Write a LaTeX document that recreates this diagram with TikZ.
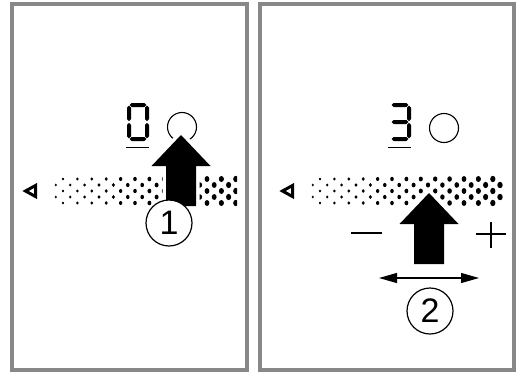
\documentclass[tikz,border=0pt]{standalone}
\usepackage{fontspec}
\newfontfamily\labelfont{Liberation Sans}
\usetikzlibrary{arrows.meta}
\definecolor{framegray}{RGB}{136,136,136}

\tikzset{
  panel/.style={draw=framegray, line width=3.5pt},
  led/.style={circle, draw, line width=1.1pt, minimum size=29pt, inner sep=0pt},
  stepnum/.style={circle, draw, line width=1.2pt, fill=white, minimum size=46pt,
    inner sep=0pt, font=\labelfont\fontsize{34}{34}\selectfont},
  sign/.style={line width=1.4pt},
  backtri/.style={line width=3pt, line join=miter},
  swipe/.style={line width=1.2pt,
    {Triangle[length=18pt,width=10pt]}-{Triangle[length=18pt,width=10pt]}},
}

% display segments: start, centre line, length
\newcommand{\hseg}[3]{\fill (#1,#2) -- ++(2,2) -- ++({#3-4},0) -- ++(2,-2)
  -- ++(-2,-2) -- ++({-#3+4},0) -- cycle;}
\newcommand{\vseg}[3]{\fill (#1,#2) -- ++(2,2) -- ++(0,{#3-4}) -- ++(-2,2)
  -- ++(-2,-2) -- ++(0,{-#3+4}) -- cycle;}

% big push arrow with a white halo, tip at (#1,#2)
\newcommand{\pusharrow}[2]{%
  \draw[white, fill=white, line width=7pt, line join=miter]
    (#1,#2) -- ++(29.5,31) -- ++(-14.5,0) -- ++(0,40) -- ++(-30,0)
    -- ++(0,-40) -- ++(-14.5,0) -- cycle;
  \fill (#1,#2) -- ++(29.5,31) -- ++(-14.5,0) -- ++(0,40) -- ++(-30,0)
    -- ++(0,-40) -- ++(-14.5,0) -- cycle;}

% halftone slider bar, #1 = x of first dot of the top row
\newcommand{\dotbar}[1]{%
  \foreach \row in {0,...,4} {
    \foreach \j in {0,...,26} {
      \pgfmathtruncatemacro{\odd}{mod(\j+\row,2)}
      \ifnum\odd=1
        \pgfmathsetmacro{\rr}{1.15+1.55*\j/26}
        \pgfmathsetmacro{\ry}{1.2*\rr}
        \fill ({#1-7.2+7.2*\j},{179+6*\row}) ellipse [x radius=\rr pt, y radius=\ry pt];
      \fi
    }
  }}

\begin{document}
\begin{tikzpicture}[x=1pt, y=-1pt]
\useasboundingbox (0,0) rectangle (516,372);

% frames
\draw[panel] (12,4) rectangle (247,370);
\draw[panel] (260,4) rectangle (514,370);

% left panel: press the slider
\begin{scope}
  \clip (14,150) rectangle (237,215);
  \dotbar{63}
\end{scope}
\draw[backtri] (25.5,191) -- (35.5,185.5) -- (35.5,196.5) -- cycle;
\begin{scope}[shift={(127,103)}]
  \hseg{2.6}{2}{16.8}
  \hseg{2.6}{36}{16.8}
  \vseg{2}{2.6}{15.6}
  \vseg{2}{19.8}{15.6}
  \vseg{20}{2.6}{15.6}
  \vseg{20}{19.8}{15.6}
  \draw[line width=1.5pt] (-1,44.5) -- (22,44.5);
\end{scope}
\node[led] (ledl) at (182,127) {};
\pusharrow{181}{135}
\node[stepnum] (one) at (169,223) {1};

% right panel: slide to set the level
\dotbar{320}
\draw[backtri] (282.5,191) -- (292.5,185.5) -- (292.5,196.5) -- cycle;
\begin{scope}[shift={(389,103)}]
  \hseg{2.6}{2}{16.8}
  \hseg{2.6}{19}{16.8}
  \hseg{2.6}{36}{16.8}
  \vseg{20}{2.6}{15.6}
  \vseg{20}{19.8}{15.6}
  \draw[line width=1.5pt] (-1,44.5) -- (22,44.5);
\end{scope}
\node[led] (ledr) at (444,128) {};
\pusharrow{429}{193}
\draw[sign] (351,233) -- (382,233);
\draw[sign] (476,234) -- (506,234);
\draw[sign] (491,222) -- (491,248);
\coordinate (swl) at (379,278);
\coordinate (swr) at (479,278);
\draw[swipe] (swl) -- (swr);
\node[stepnum] (two) at (430,311) {2};
\end{tikzpicture}
\end{document}
